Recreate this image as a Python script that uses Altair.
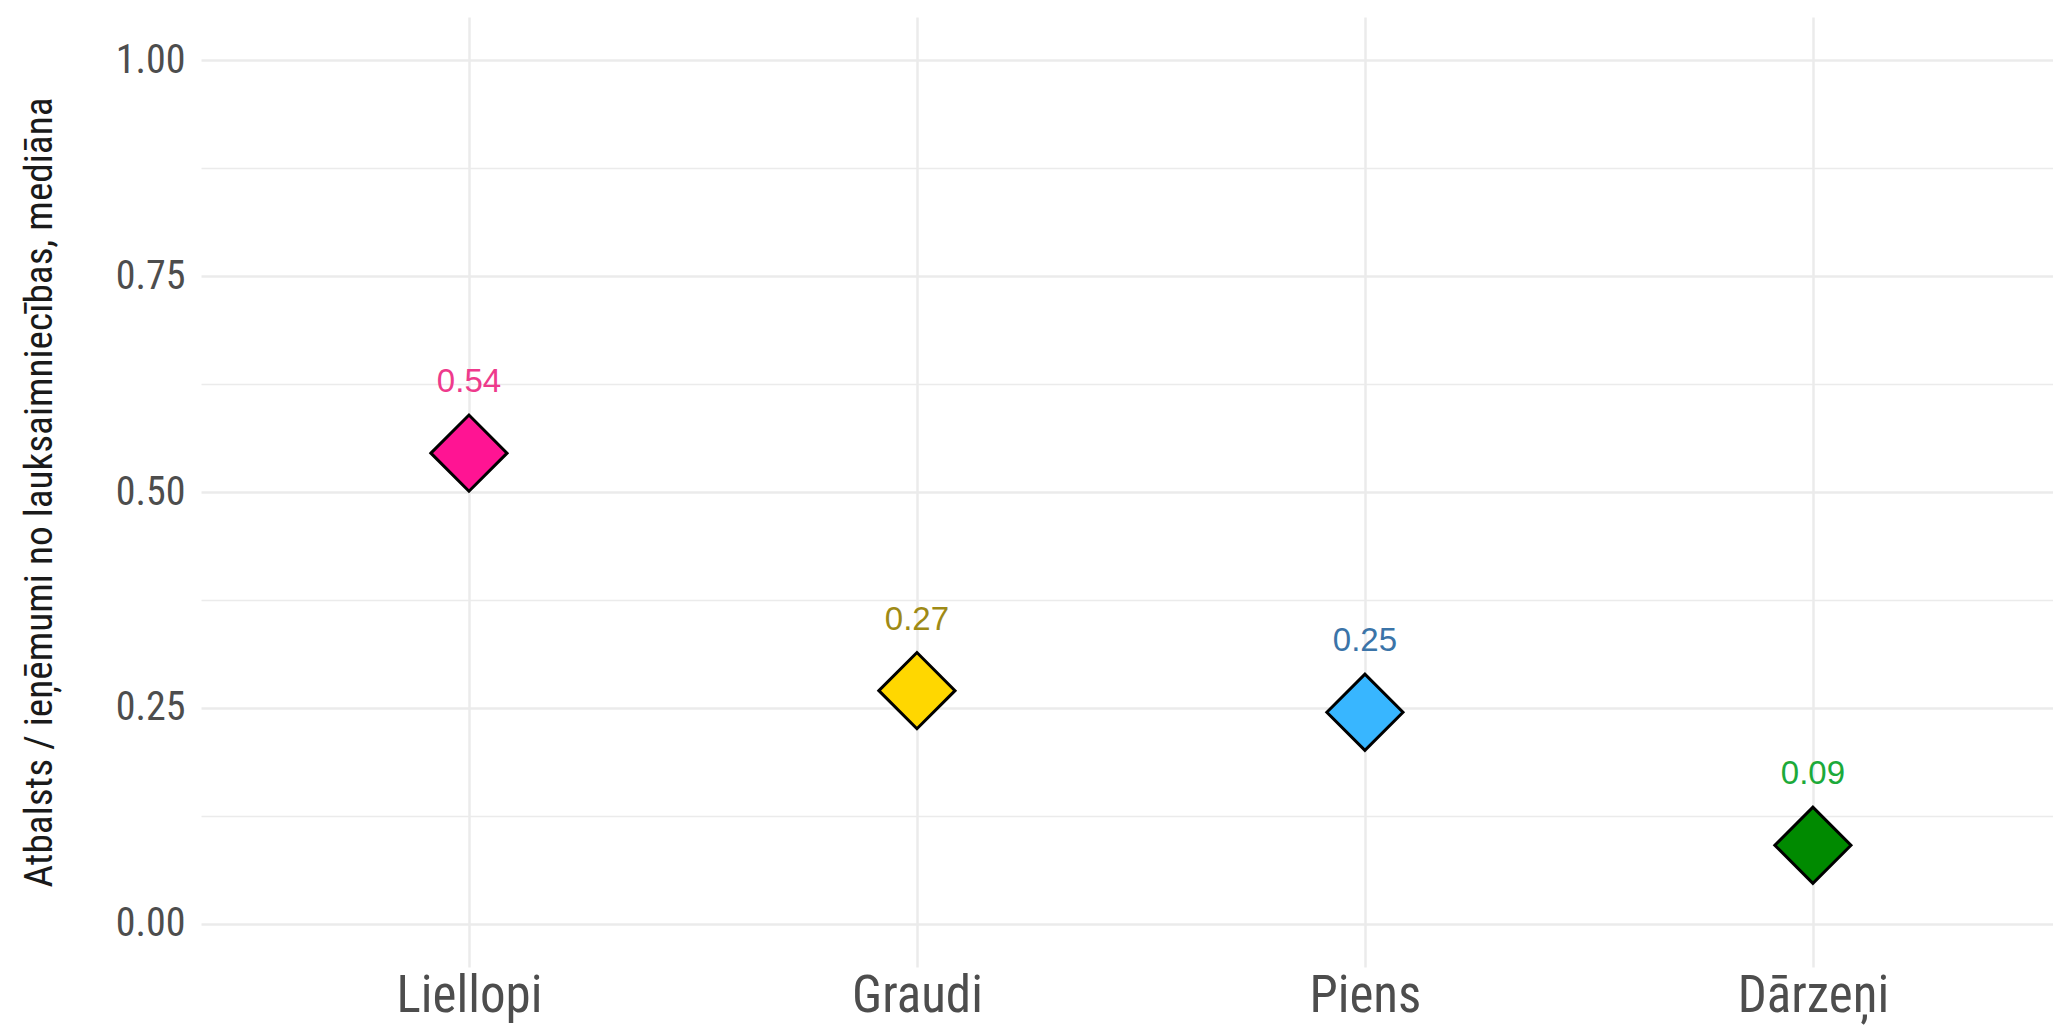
import json
import altair as alt
import pandas as pd

categories = ["Liellopi", "Graudi", "Piens", "Dārzeņi"]
values = [0.545, 0.27, 0.245, 0.091]
labels = ["0.54", "0.27", "0.25", "0.09"]
fill_colors = ["#FF1493", "#FFD700", "#38B6FF", "#008A00"]
label_colors = ["#EE3A8C", "#9E8A16", "#3B74A8", "#1CAA3A"]
y_ticks = [0, 0.125, 0.25, 0.375, 0.5, 0.625, 0.75, 0.875, 1.0]
x_positions = list(range(1, len(categories) + 1))

df = pd.DataFrame({"cat": categories, "pos": x_positions, "val": values, "lab": labels})

NARROW = "'Roboto Condensed', 'Liberation Sans Narrow', 'DejaVu Sans Condensed', sans-serif"
REG = "'Liberation Sans', Arial, sans-serif"

cat_expr = json.dumps(categories, ensure_ascii=False) + "[datum.value - 1]"

x_enc = alt.X(
    "pos:Q",
    scale=alt.Scale(domain=[0.4018, 4.536], nice=False, zero=False),
    axis=alt.Axis(
        title=None, values=x_positions, labelExpr=cat_expr,
        grid=True, gridColor="#EBEBEB", gridWidth=2.5,
        domain=False, ticks=False, tickSize=0,
        labelFont=NARROW, labelFontSize=51, labelColor="#4D4D4D",
        labelBaseline="alphabetic", labelPadding=44, labelAngle=0, labelLimit=0,
        labelFlush=False, labelOverlap=False,
    ),
)
y_enc = alt.Y(
    "val:Q",
    scale=alt.Scale(domain=[-0.05, 1.05], nice=False, zero=False),
    axis=alt.Axis(
        title="Atbalsts / ieņēmumi no lauksaimniecības, mediāna",
        values=y_ticks,
        labelExpr="(datum.value*4) % 1 == 0 ? format(datum.value, '.2f') : ''",
        grid=True, gridColor="#EBEBEB",
        gridWidth={"condition": {"test": "(datum.value*4) % 1 == 0", "value": 2.5}, "value": 1.4},
        domain=False, ticks=False, tickSize=0,
        labelFont=NARROW, labelFontSize=40, labelColor="#4D4D4D", labelPadding=16,
        labelFlush=False, labelOverlap=False,
        titleFont=NARROW, titleFontSize=39.3, titleFontWeight="normal", titleColor="#1A1A1A",
        titleAngle=270, titleX=-150, titleY=475, titleBaseline="alphabetic", titleAlign="center",
    ),
)

points = alt.Chart(df).mark_point(
    shape="diamond", filled=True, size=5800, stroke="black", strokeWidth=3, opacity=1
).encode(
    x=x_enc, y=y_enc,
    fill=alt.Fill("cat:N", scale=alt.Scale(domain=categories, range=fill_colors), legend=None),
)

texts = alt.Chart(df).mark_text(
    font=REG, fontSize=33, baseline="alphabetic", align="center", dy=-61
).encode(
    x=x_enc, y=y_enc, text="lab:N",
    color=alt.Color("cat:N", scale=alt.Scale(domain=categories, range=label_colors), legend=None),
)

chart = (points + texts).properties(
    width=1852, height=950,
    autosize=alt.AutoSizeParams(type="none"),
    padding={"left": 193, "top": 9, "right": 0, "bottom": 58},
    background="white",
).configure_view(stroke=None)

chart.save("out.html", embed_options={"renderer": "svg", "actions": False})
